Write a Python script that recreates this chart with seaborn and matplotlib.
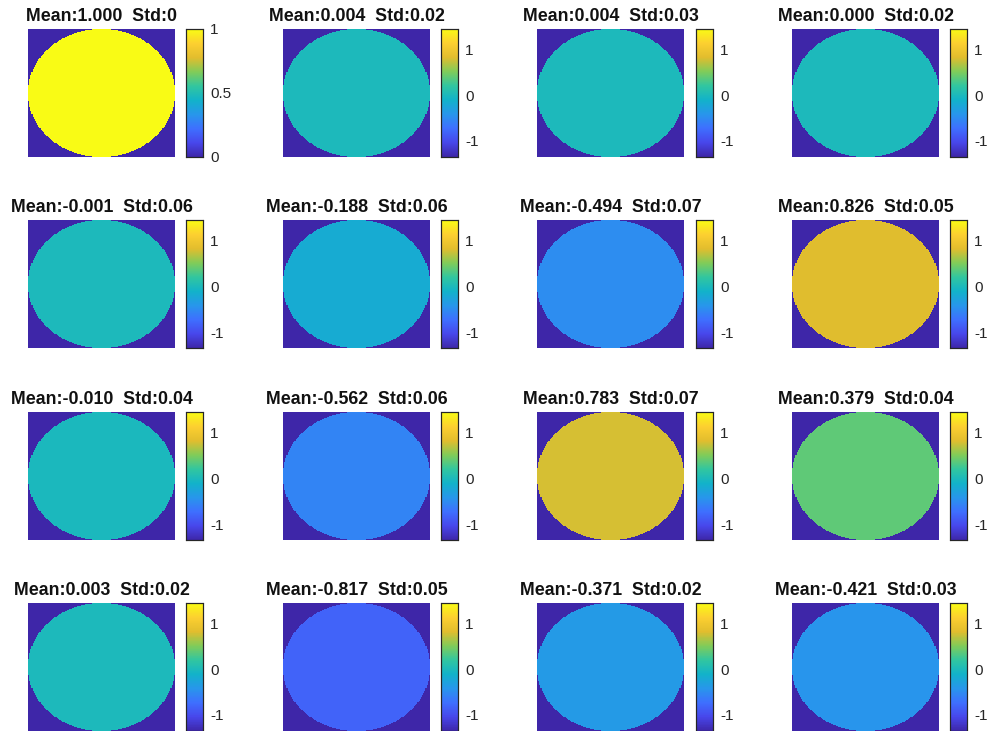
import numpy as np
import matplotlib
matplotlib.use("Agg")
import matplotlib.pyplot as plt
from matplotlib.colors import LinearSegmentedColormap
import seaborn as sns

# panel values read from the titles
means = [1.000, 0.004, 0.004, 0.000,
         -0.001, -0.188, -0.494, 0.826,
         -0.010, -0.562, 0.783, 0.379,
         0.003, -0.817, -0.371, -0.421]
std_labels = ["0", "0.02", "0.03", "0.02",
              "0.06", "0.06", "0.07", "0.05",
              "0.04", "0.06", "0.07", "0.04",
              "0.02", "0.05", "0.02", "0.03"]
clim_first = (0.0, 1.0)
clim_rest = (-1.35, 1.45)
ticks_first = [0, 0.5, 1]
ticklabels_first = ["0", "0.5", "1"]
ticks_rest = [-1, 0, 1]
ticklabels_rest = ["-1", "0", "1"]

# old matlab parula (approx)
parula = LinearSegmentedColormap.from_list("parula", [
    (0.2422, 0.1504, 0.6603),
    (0.2803, 0.2782, 0.9221),
    (0.2440, 0.4358, 0.9988),
    (0.1540, 0.5902, 0.9218),
    (0.0697, 0.7000, 0.7900),
    (0.1938, 0.7758, 0.6251),
    (0.5044, 0.7993, 0.3480),
    (0.8834, 0.7406, 0.1796),
    (0.9892, 0.8136, 0.1885),
    (0.9769, 0.9839, 0.0805)])

sns.set_style("white")
plt.rcParams['font.family'] = ['Liberation Sans', 'DejaVu Sans']

W, H = 989, 731
fig = plt.figure(figsize=(W / 100, H / 100), dpi=100)

col_x = [28, 283, 537, 792]
cbar_x = [186, 441, 696, 950]
row_y = [29, 220, 412, 603]
img_w, img_h, cb_w = 147, 128, 17

n = 128
yy, xx = np.mgrid[0:n, 0:n]
disk = ((xx - (n - 1) / 2) ** 2 + (yy - (n - 1) / 2) ** 2) <= (n / 2) ** 2


def px_axes(x, y, w, h):
    return fig.add_axes([x / W, 1 - (y + h) / H, w / W, h / H])


for i, m in enumerate(means):
    r, c = divmod(i, 4)
    vmin, vmax = clim_first if i == 0 else clim_rest
    img = np.where(disk, m, vmin)
    ax = px_axes(col_x[c], row_y[r], img_w, img_h)
    cax = px_axes(cbar_x[c], row_y[r], cb_w, img_h)
    sns.heatmap(img, ax=ax, cmap=parula, vmin=vmin, vmax=vmax, cbar_ax=cax,
                xticklabels=False, yticklabels=False, rasterized=True)
    ax.set_title(f"Mean:{m:.3f}  Std:{std_labels[i]}", fontsize=12.8,
                 fontweight='bold', pad=5.5, color='#111111')
    if i == 0:
        cax.set_yticks(ticks_first)
        cax.set_yticklabels(ticklabels_first)
    else:
        cax.set_yticks(ticks_rest)
        cax.set_yticklabels(ticklabels_rest)
    cax.tick_params(axis='y', direction='in', length=3, width=0.6, labelsize=11,
                    colors='#262626', pad=5)
    for s in cax.spines.values():
        s.set_visible(True)
        s.set_linewidth(0.8)
        s.set_color('#262626')

fig.savefig("out.png", dpi=100)
